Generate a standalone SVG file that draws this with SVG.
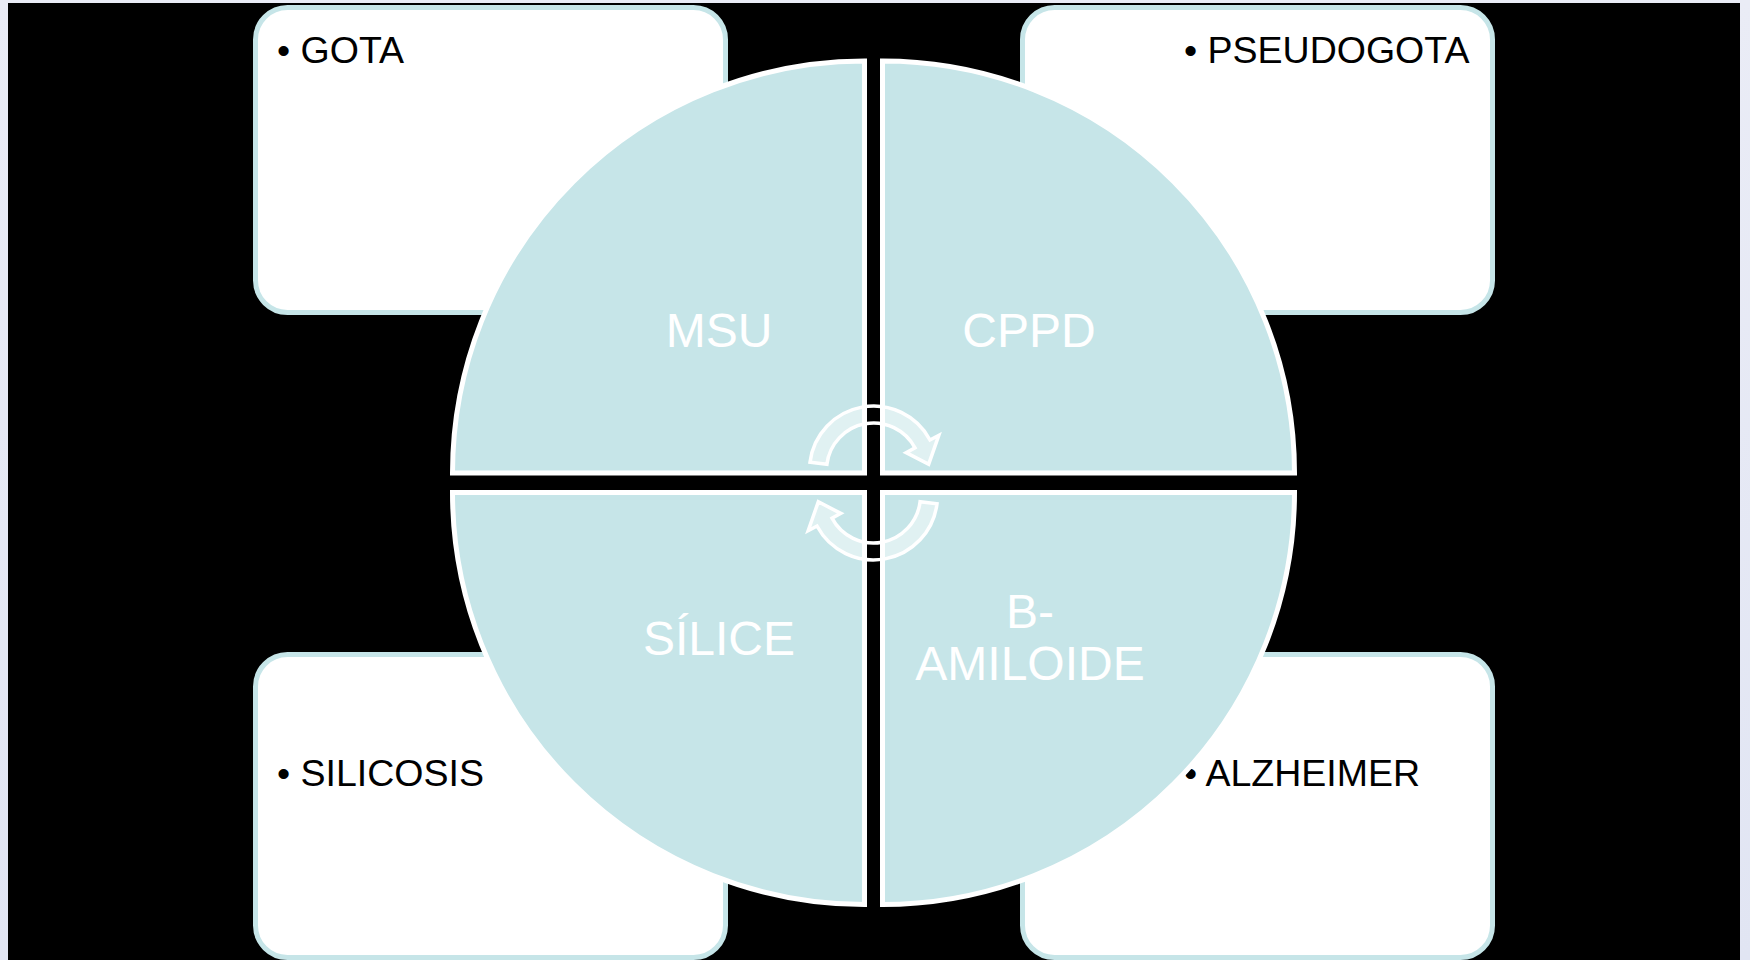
<svg xmlns="http://www.w3.org/2000/svg" width="1750" height="960" viewBox="0 0 1750 960">
  <defs>
    <linearGradient id="bgGrad" x1="0" y1="0" x2="0" y2="1">
      <stop offset="0" stop-color="#eaecf6"/>
      <stop offset="1" stop-color="#e1e5f3"/>
    </linearGradient>
    <mask id="gapMask" maskUnits="userSpaceOnUse" x="0" y="0" width="1750" height="960">
      <rect x="0" y="0" width="1750" height="960" fill="#ffffff"/>
      <rect x="867" y="340" width="13" height="290" fill="#000000"/>
      <rect x="700" y="476" width="350" height="14" fill="#000000"/>
    </mask>
    <path id="cycArrow" d="M 810 462.2 A 64 64 0 0 1 930 440 L 938.8 435.3 L 928.7 464.2 L 906.2 452.6 L 915 447.9 A 47 47 0 0 0 826.9 464.3 Z"/>
  </defs>
  <style>
    .box { fill: #ffffff; stroke: #c6e5e8; stroke-width: 5; }
    .boxtext { font-family: "Liberation Sans", Arial, sans-serif; font-size: 37.5px; fill: #000000; }
    .quad { fill: #c6e5e8; stroke: #ffffff; stroke-width: 5; stroke-linejoin: miter; }
    .qlabel { font-family: "Liberation Sans", Arial, sans-serif; font-size: 48px; fill: #ffffff; text-anchor: middle; }
    .cycfill { fill: #ffffff; fill-opacity: 0.45; stroke: none; }
    .cycline { fill: none; stroke: #ffffff; stroke-width: 3.5; stroke-linejoin: miter; }
  </style>

  <rect x="0" y="0" width="1750" height="960" fill="url(#bgGrad)"/>
  <rect x="8" y="3" width="1732" height="957" fill="#000000"/>

  <g id="box-gota">
    <rect class="box" x="255.5" y="7.5" width="470" height="305" rx="32" ry="32"/>
    <text class="boxtext" x="277" y="63">• GOTA</text>
  </g>
  <g id="box-pseudogota">
    <rect class="box" x="1022.5" y="7.5" width="470" height="305" rx="32" ry="32"/>
    <text class="boxtext" x="1184" y="63">• PSEUDOGOTA</text>
  </g>
  <g id="box-silicosis">
    <rect class="box" x="255.5" y="654.5" width="470" height="303" rx="32" ry="32"/>
    <text class="boxtext" x="277" y="786">• SILICOSIS</text>
  </g>
  <g id="box-alzheimer">
    <rect class="box" x="1022.5" y="654.5" width="470" height="303" rx="32" ry="32"/>
    <text class="boxtext" x="1184" y="786">• ALZHEIMER</text>
  </g>

  <g id="quad-msu">
    <path class="quad" d="M 864.5 473 L 452.5 473 A 412 412 0 0 1 864.5 61 Z"/>
    <text class="qlabel" x="719" y="347">MSU</text>
  </g>
  <g id="quad-cppd">
    <path class="quad" d="M 882.5 473 L 882.5 61 A 412 412 0 0 1 1294.5 473 Z"/>
    <text class="qlabel" x="1029" y="347">CPPD</text>
  </g>
  <g id="quad-silice">
    <path class="quad" d="M 864.5 492.5 L 864.5 904.5 A 412 412 0 0 1 452.5 492.5 Z"/>
    <text class="qlabel" x="719" y="655">SÍLICE</text>
  </g>
  <g id="quad-amiloide">
    <path class="quad" d="M 882.5 492.5 L 1294.5 492.5 A 412 412 0 0 1 882.5 904.5 Z"/>
    <text class="qlabel" x="1030" y="628">B-</text>
    <text class="qlabel" x="1030" y="680">AMILOIDE</text>
  </g>

  <g id="connectors">
    <g id="cycle-top">
      <use href="#cycArrow" class="cycfill" mask="url(#gapMask)"/>
      <use href="#cycArrow" class="cycline"/>
    </g>
    <g id="cycle-bottom">
      <g mask="url(#gapMask)">
        <use href="#cycArrow" class="cycfill" transform="rotate(180 873.5 483)"/>
      </g>
      <use href="#cycArrow" class="cycline" transform="rotate(180 873.5 483)"/>
    </g>
  </g>
</svg>
